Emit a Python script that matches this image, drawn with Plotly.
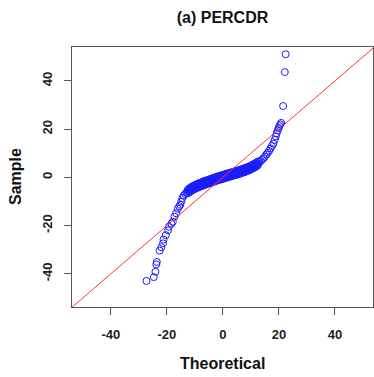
import plotly.graph_objects as go

# Lower tail points (theoretical, sample)
tail_lo_x = [-27.3, -24.7, -24.1, -23.8, -23.6, -22.6, -22.0, -21.4, -21.2, -20.4,
             -19.6, -19.3, -18.4, -17.9, -17.3, -16.7, -16.1, -15.6, -15.2, -14.9, -14.5]
tail_lo_y = [-43.0, -41.4, -39.2, -36.1, -35.1, -30.4, -29.0, -27.4, -25.8, -24.0,
             -22.0, -20.5, -19.2, -18.4, -16.3, -14.9, -13.0, -12.0, -11.4, -10.1, -8.6]

# Dense middle part (centre of the band)
mid_x = [-14.0, -13.5, -13.0, -12.5, -12.0, -11.5, -11.0, -10.5, -10.0, -9.5,
         -9.0, -8.5, -8.0, -7.5, -7.0, -6.5, -6.0, -5.5, -5.0, -4.5,
         -4.0, -3.5, -3.0, -2.5, -2.0, -1.5, -1.0, -0.5, 0.0, 0.5,
         1.0, 1.5, 2.0, 2.5, 3.0, 3.5, 4.0, 4.5, 5.0, 5.5,
         6.0, 6.5, 7.0, 7.5, 8.0, 8.5, 9.0, 9.5, 10.0, 10.5,
         11.0, 11.5, 12.0, 12.5, 13.0, 13.5, 14.0]
mid_y = [-7.6, -6.9, -6.3, -5.8, -5.4, -5.0, -4.6, -4.3, -4.0, -3.7,
         -3.5, -3.2, -3.0, -2.8, -2.5, -2.3, -2.1, -1.9, -1.7, -1.5,
         -1.3, -1.1, -0.9, -0.7, -0.5, -0.3, -0.1, 0.0, 0.2, 0.4,
         0.6, 0.8, 0.9, 1.1, 1.3, 1.4, 1.6, 1.8, 1.9, 2.1,
         2.3, 2.5, 2.7, 2.9, 3.1, 3.3, 3.6, 3.8, 4.1, 4.4,
         4.7, 5.0, 5.4, 5.8, 6.3, 6.8, 7.4]

# Upper and lower edges of the thick band
band_x = [-12.5, -12.0, -11.5, -11.0, -10.5, -10.0, -9.5, -9.0, -8.5, -8.0,
          -7.5, -7.0, -6.5, -6.0, -5.5, -5.0, -4.5, -4.0, -3.5, -3.0,
          -2.5, -2.0, -1.5, -1.0, -0.5, 0.0, 0.5, 1.0, 1.5, 2.0,
          2.5, 3.0, 3.5, 4.0, 4.5, 5.0, 5.5, 6.0, 6.5, 7.0,
          7.5, 8.0, 8.5, 9.0, 9.5, 10.0, 10.5, 11.0, 11.5, 12.0, 12.5]
band_hi_y = [-5.0, -4.6, -4.2, -3.8, -3.5, -3.2, -2.9, -2.7, -2.4, -2.2,
             -2.0, -1.7, -1.5, -1.3, -1.1, -0.9, -0.7, -0.5, -0.3, -0.1,
             0.1, 0.3, 0.5, 0.7, 0.8, 1.0, 1.2, 1.4, 1.6, 1.7,
             1.9, 2.1, 2.2, 2.4, 2.6, 2.7, 2.9, 3.1, 3.3, 3.5,
             3.7, 3.9, 4.1, 4.4, 4.6, 4.9, 5.2, 5.5, 5.8, 6.2, 6.6]
band_lo_y = [-6.6, -6.2, -5.8, -5.4, -5.1, -4.8, -4.5, -4.3, -4.0, -3.8,
             -3.6, -3.3, -3.1, -2.9, -2.7, -2.5, -2.3, -2.1, -1.9, -1.7,
             -1.5, -1.3, -1.1, -0.9, -0.8, -0.6, -0.4, -0.2, 0.0, 0.1,
             0.3, 0.5, 0.6, 0.8, 1.0, 1.1, 1.3, 1.5, 1.7, 1.9,
             2.1, 2.3, 2.5, 2.8, 3.0, 3.3, 3.6, 3.9, 4.2, 4.6, 5.0]

# Upper tail
tail_hi_x = [14.5, 15.0, 15.5, 16.0, 16.5, 17.0, 17.5, 18.0, 18.5, 18.9,
             19.2, 19.6, 19.9, 20.2, 20.5, 20.8, 21.5, 22.1, 22.4]
tail_hi_y = [7.9, 8.6, 9.5, 10.2, 11.0, 12.0, 13.0, 14.0, 15.5, 17.0,
             18.3, 19.5, 20.5, 21.3, 22.0, 22.6, 29.6, 43.7, 51.1]

theoretical = tail_lo_x + mid_x + band_x + band_x + tail_hi_x
sample = tail_lo_y + mid_y + band_hi_y + band_lo_y + tail_hi_y

tick_vals = [-40, -20, 0, 20, 40]
tick_text = ["-40", "-20", "0", "20", "40"]

line_intercept = 0.0
line_slope = 1.0
line_x = [-60, 60]
line_y = [line_intercept + line_slope * v for v in line_x]

FONT = "Liberation Sans, Arial, sans-serif"

fig = go.Figure()
fig.add_trace(go.Scatter(
    x=theoretical, y=sample, mode="markers",
    marker=dict(symbol="circle-open", size=7, color="#1a1aff",
                line=dict(width=1, color="#1a1aff")),
    cliponaxis=True, showlegend=False))
fig.add_trace(go.Scatter(
    x=line_x, y=line_y, mode="lines",
    line=dict(color="#FF3333", width=1), showlegend=False))

axis_common = dict(
    showgrid=False, zeroline=False,
    showline=True, mirror=True, linecolor="#555555", linewidth=1,
    ticks="outside", ticklen=7, tickcolor="#555555", tickwidth=1,
    tickvals=tick_vals, ticktext=tick_text,
    tickfont=dict(family=FONT, size=13, color="#222222", weight="bold"),
)

fig.update_layout(
    width=374, height=377,
    margin=dict(l=72, r=1, t=47, b=70),
    paper_bgcolor="white", plot_bgcolor="white",
    title=dict(text="(a) PERCDR", x=0.5, xref="paper", xanchor="center",
               y=1 - 17 / 377, yref="container", yanchor="middle",
               font=dict(family=FONT, size=16, color="#111111", weight="bold")),
    xaxis=dict(range=[-53.9, 53.6], ticklabelstandoff=8, **axis_common),
    yaxis=dict(range=[-53.8, 54.1], tickangle=-90, ticklabelstandoff=7, **axis_common),
    annotations=[
        dict(text="Theoretical", x=0.5, xref="paper", y=-(363 - 307) / 260, yref="paper",
             xanchor="center", yanchor="middle", showarrow=False,
             font=dict(family=FONT, size=16, color="#111111", weight="bold")),
        dict(text="Sample", x=-(72 - 15) / 301, xref="paper", y=0.5, yref="paper",
             xanchor="center", yanchor="middle", showarrow=False, textangle=-90,
             font=dict(family=FONT, size=16, color="#111111", weight="bold")),
    ],
)

fig.write_html("out.html")
